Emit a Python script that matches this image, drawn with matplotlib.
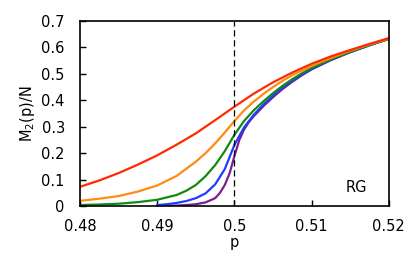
import matplotlib
matplotlib.use('Agg')
import matplotlib.pyplot as plt

# curves, one per colour
p_red = [0.48, 0.4825, 0.485, 0.4875, 0.49, 0.4925, 0.495, 0.4975, 0.5,
         0.5025, 0.505, 0.5075, 0.51, 0.5125, 0.515, 0.5175, 0.52]
m_red = [0.073, 0.097, 0.125, 0.157, 0.192, 0.232, 0.275, 0.325, 0.376,
         0.425, 0.468, 0.505, 0.538, 0.566, 0.590, 0.613, 0.635]

p_orange = [0.48, 0.4825, 0.485, 0.4875, 0.49, 0.4925, 0.495, 0.49625, 0.4975,
            0.49875, 0.5, 0.50125, 0.5025, 0.50375, 0.505, 0.50625, 0.5075,
            0.51, 0.5125, 0.515, 0.5175, 0.52]
m_orange = [0.020, 0.028, 0.038, 0.055, 0.078, 0.114, 0.168, 0.200, 0.237,
            0.278, 0.322, 0.362, 0.395, 0.424, 0.450, 0.474, 0.495,
            0.530, 0.560, 0.587, 0.611, 0.633]

p_green = [0.48, 0.4825, 0.485, 0.4875, 0.49, 0.4925, 0.49375, 0.495, 0.49625,
           0.4975, 0.49875, 0.5, 0.50125, 0.5025, 0.50375, 0.505, 0.50625,
           0.5075, 0.50875, 0.51, 0.5125, 0.515, 0.5175, 0.52]
m_green = [0.004, 0.006, 0.009, 0.015, 0.024, 0.042, 0.058, 0.080, 0.113,
           0.155, 0.208, 0.270, 0.322, 0.362, 0.396, 0.427, 0.455,
           0.480, 0.502, 0.522, 0.555, 0.583, 0.609, 0.632]

p_blue = [0.49, 0.49125, 0.4925, 0.49375, 0.495, 0.49625, 0.4975, 0.49875,
          0.5, 0.50125, 0.5025, 0.50375, 0.505, 0.50625, 0.5075, 0.50875,
          0.51, 0.5125, 0.515, 0.5175, 0.52]
m_blue = [0.004, 0.007, 0.012, 0.019, 0.030, 0.048, 0.082, 0.140,
          0.232, 0.298, 0.345, 0.384, 0.418, 0.448, 0.474, 0.497,
          0.518, 0.553, 0.582, 0.608, 0.632]

p_purple = [0.49, 0.49125, 0.4925, 0.49375, 0.495, 0.49625, 0.4975, 0.49812,
            0.49875, 0.49938, 0.5, 0.50063, 0.50125, 0.50188, 0.5025, 0.50375,
            0.505, 0.50625, 0.5075, 0.50875, 0.51, 0.5125, 0.515, 0.5175, 0.52]
m_purple = [0.0005, 0.001, 0.002, 0.004, 0.007, 0.014, 0.030, 0.050,
            0.080, 0.125, 0.190, 0.250, 0.290, 0.318, 0.340, 0.378,
            0.412, 0.443, 0.470, 0.495, 0.517, 0.552, 0.582, 0.608, 0.632]

plt.rcParams['font.family'] = ['DejaVu Sans']
plt.rcParams['font.size'] = 10.5

fig = plt.figure(figsize=(4.15, 2.68), dpi=100)
ax = fig.add_axes([0.193, 0.231, 0.744, 0.691])

ax.plot(p_purple, m_purple, color='#7b1f8e', lw=1.6)
ax.plot(p_blue, m_blue, color='#1f3cff', lw=1.6)
ax.plot(p_green, m_green, color='#118a11', lw=1.6)
ax.plot(p_orange, m_orange, color='#ff8a14', lw=1.6)
ax.plot(p_red, m_red, color='#ff2a00', lw=1.6)

ax.axvline(0.5, color='black', lw=0.9, ls=(0, (5, 3)))

ax.set_xlim(0.48, 0.52)
ax.set_ylim(0, 0.7)
ax.set_xticks([0.48, 0.49, 0.5, 0.51, 0.52])
ax.set_xticklabels(['0.48', '0.49', '0.5', '0.51', '0.52'])
ax.set_yticks([0, 0.1, 0.2, 0.3, 0.4, 0.5, 0.6, 0.7])
ax.set_yticklabels(['0', '0.1', '0.2', '0.3', '0.4', '0.5', '0.6', '0.7'])
ax.tick_params(direction='in', length=4, width=1)
ax.tick_params(axis='x', pad=9)
ax.tick_params(axis='y', pad=11)
for s in ax.spines.values():
    s.set_linewidth(1.2)

ax.set_xlabel('p', labelpad=1)
ax.set_ylabel('M$_2$(p)/N', labelpad=3)
ax.text(0.93, 0.1, 'RG', transform=ax.transAxes, ha='right', va='center')

fig.savefig('out.png', dpi=100)
